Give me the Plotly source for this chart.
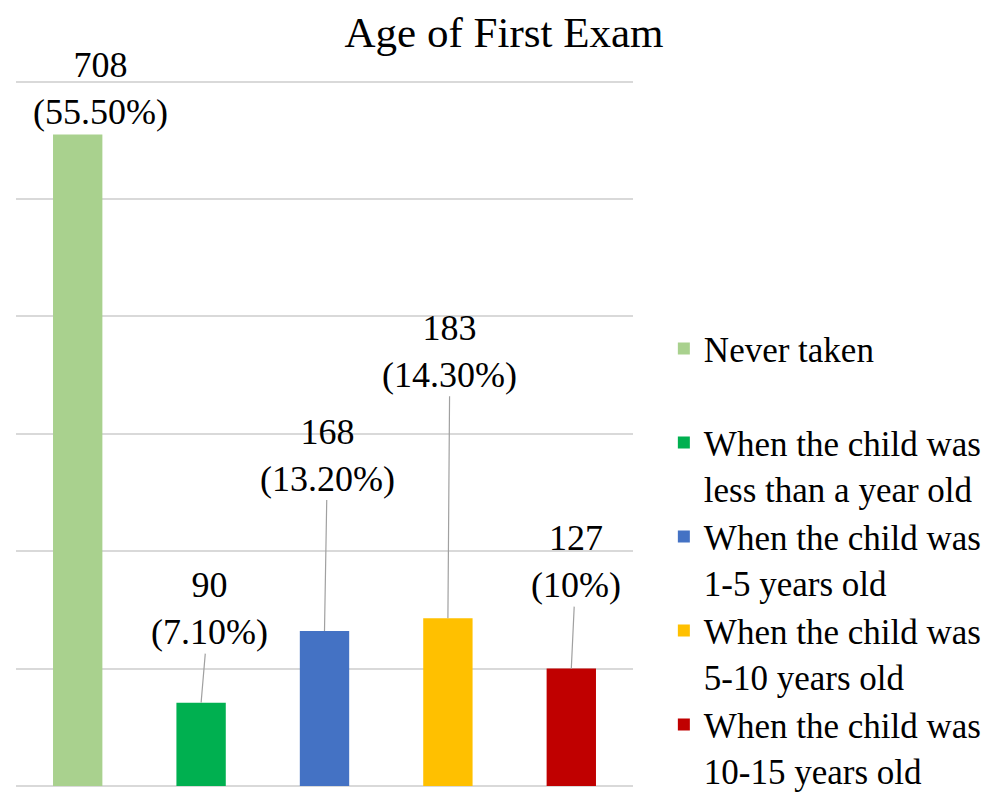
import plotly.graph_objects as go

# ---- data ----
categories = ["Never taken",
              "When the child was<br>less than a year old",
              "When the child was<br>1-5 years old",
              "When the child was<br>5-10 years old",
              "When the child was<br>10-15 years old"]
counts = [708, 90, 168, 183, 127]
percents = [55.5, 7.1, 13.2, 14.3, 10.0]
percent_labels = ["55.50%", "7.10%", "13.20%", "14.30%", "10%"]
y_ticks = [0, 10, 20, 30, 40, 50, 60]

# ---- styles / layout ----
colors = ["#A9D18E", "#00B050", "#4472C4", "#FFC000", "#C00000"]
# label centre offsets (pixels) from the top of each bar
label_dx = [23, 8, 3, 2, 5]
label_dy = [-46, -94, -176, -267, -107]
FONT = "Liberation Serif, Times New Roman, serif"

fig = go.Figure()
for i, (cat, v) in enumerate(zip(categories, percents)):
    name = cat if i > 0 else cat + "<br>\u00a0"
    fig.add_trace(go.Bar(
        x=[i], y=[v], width=0.4, name=name,
        marker=dict(color=colors[i], line=dict(width=0)),
        hoverinfo="skip",
    ))

for i, (c, v, pl) in enumerate(zip(counts, percents, percent_labels)):
    text = f"{c}<br>({pl})"
    if i == 0:
        fig.add_annotation(x=i, y=v, text=text, showarrow=False,
                           xshift=label_dx[i], yshift=-label_dy[i],
                           xanchor="center", yanchor="middle",
                           font=dict(family=FONT, size=36, color="#000000"))
    else:
        fig.add_annotation(x=i, y=v, text=text, showarrow=True,
                           arrowhead=0, arrowwidth=1.2, arrowcolor="#A0A0A0",
                           ax=label_dx[i], ay=label_dy[i], standoff=0,
                           font=dict(family=FONT, size=36, color="#000000"))

fig.update_layout(
    width=996, height=796,
    paper_bgcolor="white", plot_bgcolor="white",
    margin=dict(l=8, r=371, t=62, b=18, autoexpand=False),
    barmode="overlay",
    title=dict(text="Age of First Exam", x=0.498, xanchor="center",
               y=1 - 24 / 796, yanchor="middle", yref="container",
               font=dict(family=FONT, size=43, color="#000000")),
    xaxis=dict(range=[-0.5, 4.5], showticklabels=False, showgrid=False,
               zeroline=False, showline=False, ticks=""),
    yaxis=dict(range=[0, 61], tickvals=y_ticks, showticklabels=False,
               showgrid=True, gridcolor="#D9D9D9", gridwidth=1.5,
               zeroline=True, zerolinecolor="#D9D9D9", zerolinewidth=1.5,
               showline=False, ticks=""),
    legend=dict(x=1.05, xanchor="left", y=0.652, yanchor="top",
                valign="top", traceorder="normal",
                font=dict(family=FONT, size=35, color="#000000"),
                bgcolor="rgba(0,0,0,0)"),
    showlegend=True,
)

fig.write_html("out.html")
